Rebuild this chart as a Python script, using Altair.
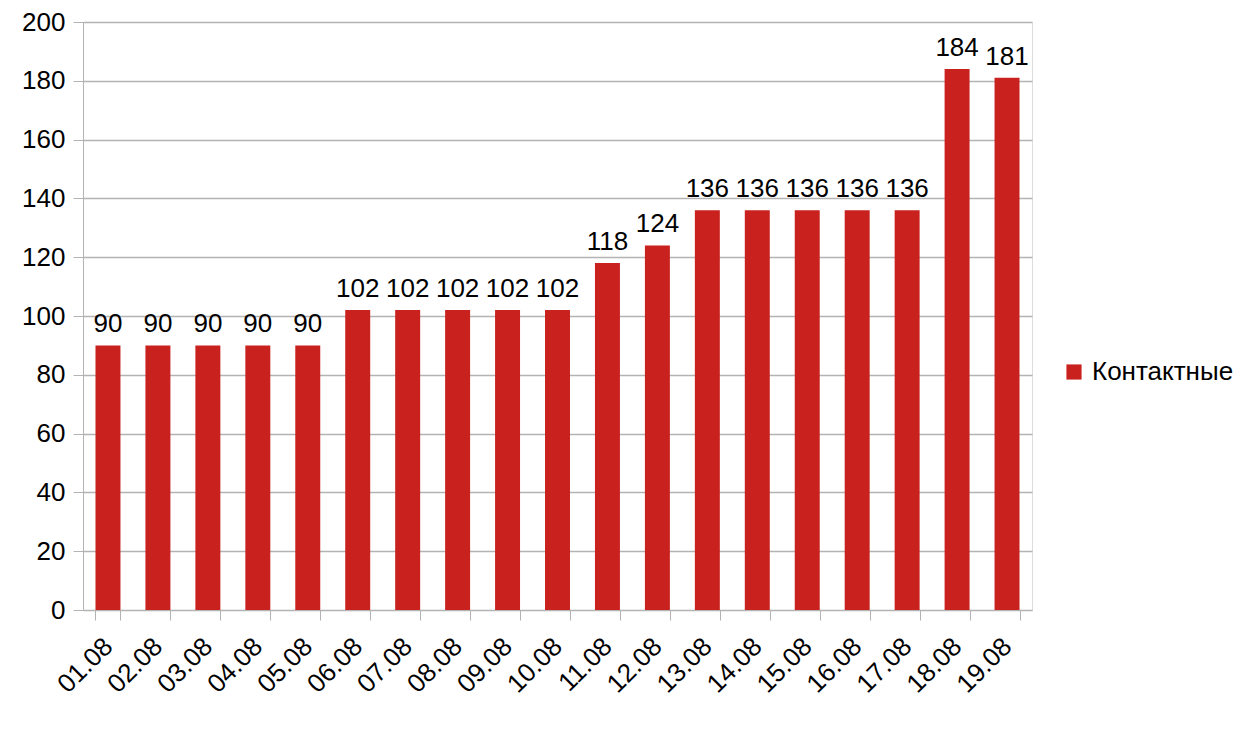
import altair as alt
import pandas as pd

dates = ["01.08", "02.08", "03.08", "04.08", "05.08", "06.08", "07.08", "08.08", "09.08", "10.08",
         "11.08", "12.08", "13.08", "14.08", "15.08", "16.08", "17.08", "18.08", "19.08"]
values = [90, 90, 90, 90, 90, 102, 102, 102, 102, 102, 118, 124, 136, 136, 136, 136, 136, 184, 181]
series_name = "Контактные"

df = pd.DataFrame({"date": dates, "value": values, "series": [series_name] * len(dates)})

FONT = "Liberation Sans"
GRAY = "#b3b3b3"
RED = "#C9211E"

base = alt.Chart(df)

x_enc = alt.X(
    "date:N", sort=dates, title=None,
    scale=alt.Scale(paddingInner=0.5, paddingOuter=0.25),
    axis=alt.Axis(labelAngle=-45, labelAlign="right", labelBaseline="middle",
                  labelFont=FONT, labelFontSize=26, labelColor="#000000",
                  labelPadding=22, tickBand="extent", tickSize=10, tickColor=GRAY,
                  domainColor=GRAY, grid=False),
)
y_enc = alt.Y(
    "value:Q", title=None,
    scale=alt.Scale(domain=[0, 200], nice=False),
    axis=alt.Axis(values=list(range(0, 201, 20)), labelFont=FONT, labelFontSize=26,
                  labelColor="#000000", labelPadding=8, tickSize=10, tickColor=GRAY,
                  domainColor=GRAY, gridColor=GRAY, gridWidth=1.5),
)

bars = base.mark_bar().encode(
    x=x_enc,
    y=y_enc,
    color=alt.Color(
        "series:N", title=None,
        scale=alt.Scale(range=[RED]),
        legend=alt.Legend(orient="none", legendX=978, legendY=337, padding=0,
                          symbolType="square", symbolSize=230, symbolStrokeWidth=0,
                          labelFont=FONT, labelFontSize=26, labelColor="#000000",
                          labelOffset=5, labelLimit=200),
    ),
)

labels = base.mark_text(baseline="bottom", dy=-8, font=FONT, fontSize=26, color="#000000").encode(
    x=alt.X("date:N", sort=dates),
    y=alt.Y("value:Q"),
    text=alt.Text("value:Q"),
)

chart = (
    alt.layer(bars, labels)
    .properties(width=949, height=588,
                padding={"left": 75, "top": 14, "right": 210, "bottom": 110},
                autosize=alt.AutoSizeParams(type="none"))
    .configure_view(stroke=GRAY, strokeWidth=1.5)
    .configure(background="white")
)

chart.save("out.html", embed_options={"renderer": "svg", "actions": False})
